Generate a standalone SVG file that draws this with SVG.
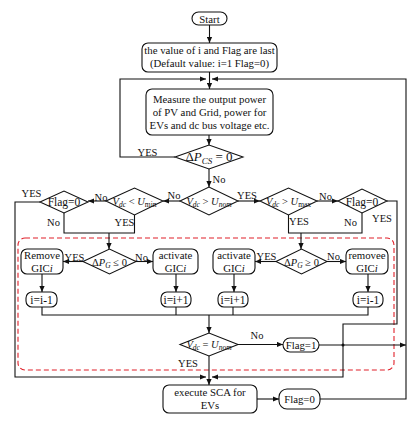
<svg xmlns="http://www.w3.org/2000/svg" width="415" height="421" viewBox="0 0 415 421">
<style>
text{font-family:"Liberation Serif","Times New Roman",serif;fill:#111;}
.box{fill:#fff;stroke:#111;stroke-width:1.1;}
.t{font-size:10.8px;text-anchor:middle;}
.s{font-size:11.5px;text-anchor:middle;}
.lb{font-size:10.5px;text-anchor:middle;}
.m{font-size:10.5px;text-anchor:middle;}
.i{font-style:italic;}
.c path{fill:none;stroke:#111;stroke-width:1.1;}
.a{marker-end:url(#ah);}
</style>
<defs>
<marker id="ah" markerUnits="userSpaceOnUse" markerWidth="6" markerHeight="6" refX="6" refY="3" orient="auto">
<path d="M0,0.4 L6,3 L0,5.6 z" fill="#111"/>
</marker>
</defs>
<rect x="0" y="0" width="415" height="421" fill="#fff"/>

<rect x="18" y="238" width="376" height="132" rx="7" fill="none" stroke="#e0212b" stroke-width="1.1" stroke-dasharray="5,3"/>

<g class="c" id="connectors">
<path class="a" d="M209.5,25 V43"/>
<path class="a" d="M209.5,72 V89"/>
<path class="a" d="M209,135 V145"/>
<path class="a" d="M175,157 H120 V79 H206"/>
<path class="a" d="M209,169 V187"/>
<path class="a" d="M180,201 H163"/>
<path class="a" d="M106,201 H88"/>
<path class="a" d="M40,202 H15 V377 H206"/>
<path class="a" d="M238,201 H260"/>
<path class="a" d="M317,201 H338"/>
<path class="a" d="M387,201 H397 V324 H343 V377 H212"/>
<path d="M64,213 V233 H134.5 V215"/>
<path class="a" d="M109,233 V249"/>
<path d="M288.5,215 V233 H362 V213"/>
<path class="a" d="M301,233 V249"/>
<path class="a" d="M83,261.5 H63"/>
<path class="a" d="M136,261.5 H153"/>
<path class="a" d="M42,274 V292"/>
<path class="a" d="M176,274 V292"/>
<path class="a" d="M276,261.5 H255"/>
<path class="a" d="M327,261.5 H346"/>
<path class="a" d="M234,274 V292"/>
<path class="a" d="M368,274 V292"/>
<path d="M42,307 V315 H368 V307"/>
<path d="M176,307 V315"/>
<path d="M233,307 V315"/>
<path class="a" d="M209,315 V333"/>
<path class="a" d="M238,344.5 H283"/>
<path class="a" d="M319,345 H406"/>
<path class="a" d="M209,356 V385"/>
<path class="a" d="M257,399 H279"/>
<path class="a" d="M320,399 H406 V79 H212"/>
<circle cx="343" cy="345" r="1.5" fill="#111" stroke="none"/>
</g>

<g id="start">
<rect class="box" x="192" y="12" width="35" height="13" rx="6.5"/>
<text class="t" x="209.5" y="22.5">Start</text>
</g>
<g id="init">
<rect class="box" x="142" y="43" width="135" height="29" rx="6"/>
<text class="t" x="209.5" y="54">the value of i and Flag are last</text>
<text class="t" x="209.5" y="67">(Default value: i=1 Flag=0)</text>
</g>
<g id="measure">
<rect class="box" x="146" y="89" width="127" height="46" rx="6"/>
<text class="t" x="209.5" y="103">Measure the output power</text>
<text class="t" x="209.5" y="116">of PV and Grid, power for</text>
<text class="t" x="209.5" y="129">EVs and dc bus voltage etc.</text>
</g>
<g id="dPcs">
<polygon class="box" points="175,157 209,145 243,157 209,169"/>
<text x="209" y="161" style="font-size:13px;text-anchor:middle">Δ<tspan class="i">P</tspan><tspan class="i" style="font-size:9px" dy="3">CS</tspan><tspan dy="-3"> = 0</tspan></text>
</g>
<g id="vnom">
<polygon class="box" points="180,201 209,187 238,201 209,215"/>
<text class="m" x="209" y="205"><tspan class="i">V</tspan><tspan class="i" style="font-size:7.5px" dy="2">dc</tspan><tspan dy="-2"> &gt; </tspan><tspan class="i">U</tspan><tspan class="i" style="font-size:7.5px" dy="2">nom</tspan></text>
</g>
<g id="vmin">
<polygon class="box" points="106,201 134.5,188 163,201 134.5,215"/>
<text class="m" x="134.5" y="205"><tspan class="i">V</tspan><tspan class="i" style="font-size:7.5px" dy="2">dc</tspan><tspan dy="-2"> &lt; </tspan><tspan class="i">U</tspan><tspan style="font-size:7.5px" dy="2">min</tspan></text>
</g>
<g id="flag0L">
<polygon class="box" points="40,202 64,191 88,202 64,213"/>
<text class="s" x="64" y="206">Flag=0</text>
</g>
<g id="vmax">
<polygon class="box" points="260,201 288.5,188 317,201 288.5,215"/>
<text class="m" x="288.5" y="205"><tspan class="i">V</tspan><tspan class="i" style="font-size:7.5px" dy="2">dc</tspan><tspan dy="-2"> &gt; </tspan><tspan class="i">U</tspan><tspan style="font-size:7.5px" dy="2">max</tspan></text>
</g>
<g id="flag0R">
<polygon class="box" points="338,201 362,189 387,201 362,213"/>
<text class="s" x="362" y="205.5">Flag=0</text>
</g>
<g id="dPgLe">
<polygon class="box" points="83,261.5 109.5,249 136,261.5 109.5,274"/>
<text class="m" x="109.5" y="265.5">Δ<tspan class="i">P</tspan><tspan class="i" style="font-size:7.5px" dy="2">G</tspan><tspan dy="-2"> ≤ 0</tspan></text>
</g>
<g id="removeL">
<rect class="box" x="21" y="249" width="42" height="25" rx="6"/>
<text class="t" x="42" y="259">Remove</text>
<text class="t" x="42" y="271.5">GIC<tspan class="i">i</tspan></text>
</g>
<g id="activateL">
<rect class="box" x="153" y="249" width="45" height="25" rx="6"/>
<text class="t" x="175.5" y="259">activate</text>
<text class="t" x="175.5" y="271.5">GIC<tspan class="i">i</tspan></text>
</g>
<g id="decL">
<rect class="box" x="26" y="292" width="31" height="15" rx="6"/>
<text class="s" x="41.5" y="303.5">i=i-1</text>
</g>
<g id="incL">
<rect class="box" x="161" y="292" width="30" height="15" rx="6"/>
<text class="s" x="176" y="303.5">i=i+1</text>
</g>
<g id="dPgGe">
<polygon class="box" points="276,261.5 301.5,249 327,261.5 301.5,274"/>
<text class="m" x="301.5" y="265.5">Δ<tspan class="i">P</tspan><tspan class="i" style="font-size:7.5px" dy="2">G</tspan><tspan dy="-2"> ≥ 0</tspan></text>
</g>
<g id="activateR">
<rect class="box" x="213" y="249" width="42" height="25" rx="6"/>
<text class="t" x="234" y="259">activate</text>
<text class="t" x="234" y="271.5">GIC<tspan class="i">i</tspan></text>
</g>
<g id="removeR">
<rect class="box" x="346" y="249" width="42" height="25" rx="6"/>
<text class="t" x="367" y="259">removee</text>
<text class="t" x="367" y="271.5">GIC<tspan class="i">i</tspan></text>
</g>
<g id="incR">
<rect class="box" x="218" y="292" width="30" height="15" rx="6"/>
<text class="s" x="233" y="303.5">i=i+1</text>
</g>
<g id="decR">
<rect class="box" x="353" y="292" width="30" height="15" rx="6"/>
<text class="s" x="368" y="303.5">i=i-1</text>
</g>
<g id="veq">
<polygon class="box" points="180,344.5 209,333 238,344.5 209,356"/>
<text class="m" x="209" y="348"><tspan class="i">V</tspan><tspan class="i" style="font-size:7.5px" dy="2">dc</tspan><tspan dy="-2"> = </tspan><tspan class="i">U</tspan><tspan class="i" style="font-size:7.5px" dy="2">nom</tspan></text>
</g>
<g id="flag1">
<rect class="box" x="283" y="338" width="36" height="14" rx="7"/>
<text class="t" x="301" y="349">Flag=1</text>
</g>
<g id="sca">
<rect class="box" x="163" y="385" width="94" height="28" rx="6"/>
<text class="t" x="210" y="396">execute SCA for</text>
<text class="t" x="210" y="409">EVs</text>
</g>
<g id="flag0b">
<rect class="box" x="279" y="389" width="41" height="20" rx="8"/>
<text class="t" x="299.5" y="403">Flag=0</text>
</g>

<g id="labels">
<text class="lb" x="147.5" y="155.5">YES</text>
<text class="lb" x="219" y="183">No</text>
<text class="lb" x="174" y="199">No</text>
<text class="lb" x="101" y="201">No</text>
<text class="lb" x="31.5" y="197">YES</text>
<text class="lb" x="53.5" y="226">No</text>
<text class="lb" x="124.5" y="226">YES</text>
<text class="lb" x="247" y="199">YES</text>
<text class="lb" x="325.5" y="200">No</text>
<text class="lb" x="299" y="225">YES</text>
<text class="lb" x="350.5" y="226">No</text>
<text class="lb" x="382" y="222">YES</text>
<text class="lb" x="74.5" y="261">YES</text>
<text class="lb" x="141.5" y="261">No</text>
<text class="lb" x="266.5" y="260">YES</text>
<text class="lb" x="333.5" y="260">No</text>
<text class="lb" x="257" y="339">No</text>
<text class="lb" x="188" y="367">YES</text>
</g>
</svg>
